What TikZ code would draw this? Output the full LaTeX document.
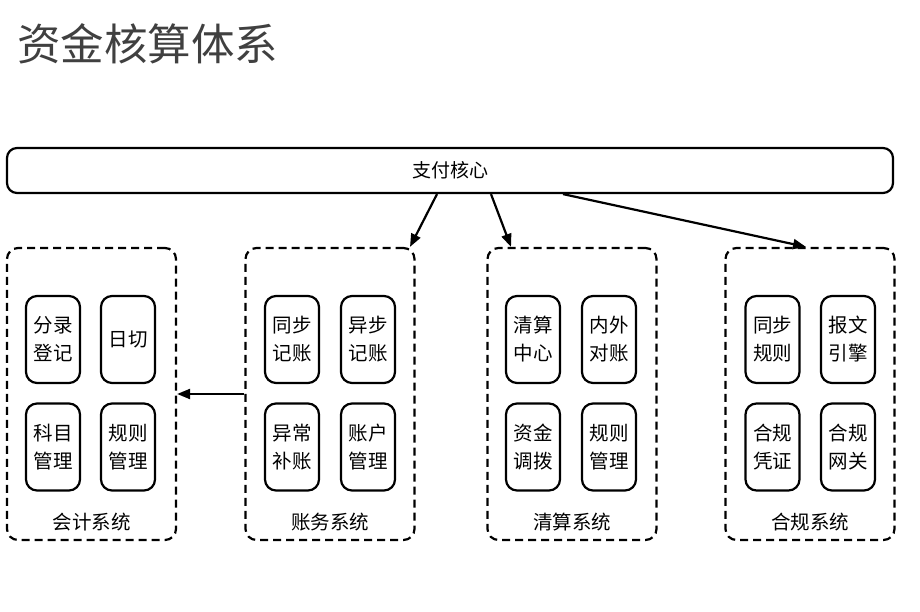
\documentclass[tikz,border=0pt]{standalone}
\usepackage{fontspec}
\setmainfont{Noto Sans CJK SC}
\usetikzlibrary{arrows.meta}
\definecolor{titlegray}{HTML}{404040}
\tikzset{
  corebox/.style={draw, line width=2.2pt, rounded corners=10pt, minimum width=886pt, minimum height=45pt, inner sep=0pt, font=\fontsize{19}{24}\selectfont},
  groupbox/.style={draw, line width=2.2pt, dash pattern=on 8pt off 5pt, rounded corners=11pt, minimum width=169pt, minimum height=292pt, inner sep=0pt},
  itembox/.style={draw, line width=2.2pt, rounded corners=11pt, minimum width=54pt, minimum height=87pt, inner sep=0pt, align=center, font=\fontsize{19.5}{28}\selectfont},
  grouplabel/.style={font=\fontsize{19.5}{24}\selectfont, inner sep=0pt},
  flow/.style={line width=2.2pt, -{Triangle[length=13pt,width=10pt]}}
}
\begin{document}
\begin{tikzpicture}[x=1pt,y=-1pt]
\useasboundingbox (0,0) rectangle (920,612);
\node[anchor=west, text=titlegray, font=\fontsize{43.5}{48}\selectfont, inner sep=0pt] (title) at (17,44) {资金核算体系};
\node[corebox] (core) at (450,170.5) {支付核心};

% groups
\node[groupbox] (kj) at (91.5,394) {};
\node[groupbox] (zw) at (330,394) {};
\node[groupbox] (qs) at (572,394) {};
\node[groupbox] (hg) at (810,394) {};

\node[grouplabel] (kjl) at (91.5,522) {会计系统};
\node[grouplabel] (zwl) at (330,522) {账务系统};
\node[grouplabel] (qsl) at (572,522) {清算系统};
\node[grouplabel] (hgl) at (810,522) {合规系统};

% 会计
\node[itembox] (kj1) at (53,339.5) {分录\\登记};
\node[itembox] (kj2) at (128,339.5) {日切};
\node[itembox] (kj3) at (53,447) {科目\\管理};
\node[itembox] (kj4) at (128,447) {规则\\管理};
% 账务
\node[itembox] (zw1) at (292,339.5) {同步\\记账};
\node[itembox] (zw2) at (368,339.5) {异步\\记账};
\node[itembox] (zw3) at (292,447) {异常\\补账};
\node[itembox] (zw4) at (368,447) {账户\\管理};
% 清算
\node[itembox] (qs1) at (533,339.5) {清算\\中心};
\node[itembox] (qs2) at (609,339.5) {内外\\对账};
\node[itembox] (qs3) at (533,447) {资金\\调拨};
\node[itembox] (qs4) at (609,447) {规则\\管理};
% 合规
\node[itembox] (hg1) at (772.5,339.5) {同步\\规则};
\node[itembox] (hg2) at (848,339.5) {报文\\引擎};
\node[itembox] (hg3) at (772.5,447) {合规\\凭证};
\node[itembox] (hg4) at (848,447) {合规\\网关};

% connectors
\coordinate (s1) at (437,0);
\coordinate (e1) at (410,0);
\coordinate (s2) at (491,0);
\coordinate (e2) at (511,0);
\coordinate (s3) at (563,0);
\coordinate (e3) at (806,0);
\draw[flow] (core.south -| s1) -- (zw.north -| e1);
\draw[flow] (core.south -| s2) -- (qs.north -| e2);
\draw[flow] (core.south -| s3) -- (hg.north -| e3);
\draw[flow] (zw.west) -- (kj.east);
\end{tikzpicture}
\end{document}
